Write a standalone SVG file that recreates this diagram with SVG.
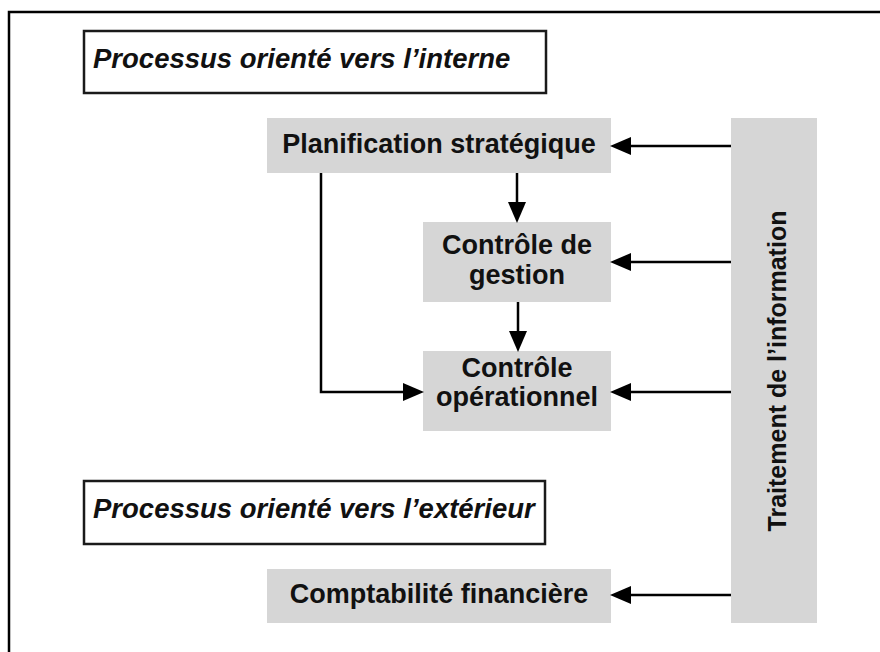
<svg xmlns="http://www.w3.org/2000/svg" width="880" height="652" viewBox="0 0 880 652">
  <style>
    .frame { fill: none; stroke: #000; stroke-width: 2.5; }
    .hdr { fill: #fff; stroke: #1a1a1a; stroke-width: 2.5; }
    .box { fill: #d6d6d6; stroke: none; }
    .lbl { font-family: "Liberation Sans", Arial, Helvetica, sans-serif; font-weight: bold; font-size: 27px; fill: #111; }
    .ital { font-family: "Liberation Sans", Arial, Helvetica, sans-serif; font-weight: bold; font-style: italic; font-size: 27.5px; fill: #111; }
    .vert { font-family: "Liberation Sans", Arial, Helvetica, sans-serif; font-weight: bold; font-size: 25px; fill: #111; }
    .mid { text-anchor: middle; }
    .conn { fill: none; stroke: #000; stroke-width: 2.5; }
  </style>
  <defs>
    <marker id="ah" markerUnits="userSpaceOnUse" markerWidth="21" markerHeight="19" refX="10" refY="9.5" orient="auto">
      <path d="M0,0.5 L21,9.5 L0,18.5 Z" fill="#000"/>
    </marker>
  </defs>

  <path class="frame" d="M9,652 V12 H880"/>

  <g id="hdr-interne">
    <rect class="hdr" x="84" y="31" width="462" height="62"/>
    <text class="ital" x="93" y="68">Processus orienté vers l’interne</text>
  </g>

  <g id="planification">
    <rect class="box" x="267" y="118" width="344" height="55"/>
    <text class="lbl mid" x="439" y="153">Planification stratégique</text>
  </g>

  <g id="controle-gestion">
    <rect class="box" x="423" y="222" width="188" height="80"/>
    <text class="lbl mid" x="517" y="254">Contrôle de</text>
    <text class="lbl mid" x="517" y="284">gestion</text>
  </g>

  <g id="controle-operationnel">
    <rect class="box" x="423" y="351" width="188" height="80"/>
    <text class="lbl mid" x="517" y="377">Contrôle</text>
    <text class="lbl mid" x="517" y="406">opérationnel</text>
  </g>

  <g id="hdr-exterieur">
    <rect class="hdr" x="84" y="481" width="461" height="63"/>
    <text class="ital" x="93" y="518">Processus orienté vers l’extérieur</text>
  </g>

  <g id="comptabilite">
    <rect class="box" x="267" y="569" width="344" height="54"/>
    <text class="lbl mid" x="439" y="603">Comptabilité financière</text>
  </g>

  <g id="traitement">
    <rect class="box" x="731" y="118" width="86" height="505"/>
    <text class="vert mid" transform="translate(786,371) rotate(-90)" x="0" y="0">Traitement de l’information</text>
  </g>

  <g id="connectors">
    <line class="conn" x1="731" y1="146" x2="621" y2="146" marker-end="url(#ah)"/>
    <line class="conn" x1="731" y1="262" x2="621" y2="262" marker-end="url(#ah)"/>
    <line class="conn" x1="731" y1="392" x2="621" y2="392" marker-end="url(#ah)"/>
    <line class="conn" x1="731" y1="595" x2="621" y2="595" marker-end="url(#ah)"/>
    <line class="conn" x1="517" y1="173" x2="517" y2="212" marker-end="url(#ah)"/>
    <line class="conn" x1="518" y1="302" x2="518" y2="341" marker-end="url(#ah)"/>
    <path class="conn" d="M321,173 V392 H413" marker-end="url(#ah)"/>
  </g>
</svg>
